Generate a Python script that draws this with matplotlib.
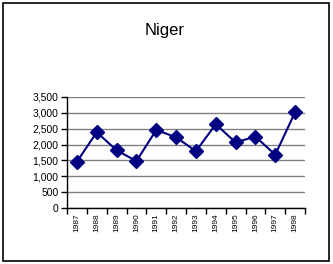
import numpy as np
from matplotlib import pyplot as plt
from matplotlib.patches import Rectangle

years = ["1987", "1988", "1989", "1990", "1991", "1992",
         "1993", "1994", "1995", "1996", "1997", "1998"]
values = [1460, 2390, 1820, 1480, 2460, 2230, 1790, 2640, 2070, 2250, 1680, 3020]
yticks = [0, 500, 1000, 1500, 2000, 2500, 3000, 3500]

plt.rcParams["font.family"] = ["Liberation Sans", "DejaVu Sans"]

fig = plt.figure(figsize=(3.33, 2.64), dpi=100)
# frame round the whole chart
fig.patches.append(Rectangle((3 / 333, 3 / 264), 326 / 333, 258 / 264, transform=fig.transFigure,
                             fill=False, edgecolor="black", linewidth=1.2))

ax = fig.add_axes([67 / 333, 56 / 264, 238 / 333, 111 / 264])
x = np.arange(len(years))
ax.plot(x, values, color="#000080", linewidth=1.5, marker="D", markersize=7,
        markerfacecolor="#000080", markeredgecolor="#000080", zorder=3)

ax.set_xlim(-0.5, len(years) - 0.5)
ax.set_ylim(0, 3500)
ax.set_yticks(yticks)
ax.set_yticklabels([f"{v:,}" for v in yticks], fontsize=7.5)
ax.set_xticks(np.arange(-0.5, len(years), 1.0))
ax.set_xticklabels([])
ax.set_xticks(x, minor=True)
ax.set_xticklabels(years, minor=True, rotation=90, fontsize=6)
ax.tick_params(axis="x", which="minor", length=0, pad=4)
ax.tick_params(axis="x", which="major", length=4, width=1, direction="out")
ax.tick_params(axis="y", length=4, width=1, direction="out", pad=2)

ax.grid(axis="y", color="#808080", linewidth=1)
ax.set_axisbelow(True)
for s in ["top", "right"]:
    ax.spines[s].set_visible(False)
ax.spines["left"].set_linewidth(1)
ax.spines["bottom"].set_linewidth(1)

fig.text(165 / 333, 1 - 30 / 264, "Niger", ha="center", va="center", fontsize=12)

fig.savefig("out.png", dpi=100)
